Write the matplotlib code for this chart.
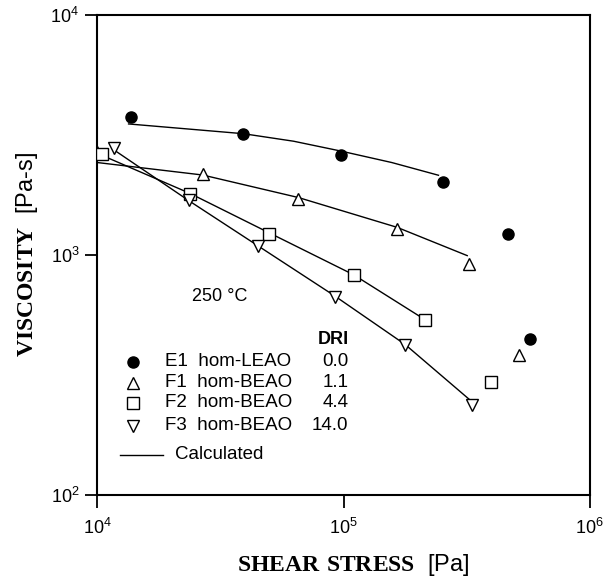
import numpy as np
import matplotlib
matplotlib.use("Agg")
from matplotlib import pyplot as plt

plt.rcParams['font.family'] = ['Liberation Sans', 'DejaVu Sans']
plt.rcParams['mathtext.fontset'] = 'custom'
plt.rcParams['mathtext.bf'] = 'Liberation Serif:bold'
plt.rcParams['mathtext.rm'] = 'Liberation Sans'

# measured points (shear stress [Pa], viscosity [Pa-s])
e1_x = [1.365e4, 3.92e4, 9.73e4, 2.53e5, 4.67e5, 5.70e5]
e1_y = [3767, 3200, 2618, 2022, 1228, 446]
f1_x = [1.0e4, 2.69e4, 6.55e4, 1.65e5, 3.22e5, 5.17e5]
f1_y = [2692, 2183, 1718, 1277, 913, 382]
f2_x = [1.045e4, 2.38e4, 4.98e4, 1.10e5, 2.15e5, 3.97e5]
f2_y = [2643, 1802, 1228, 822, 534, 295]
f3_x = [1.166e4, 2.36e4, 4.51e4, 9.2e4, 1.78e5, 3.33e5]
f3_y = [2799, 1701, 1085, 666, 421, 237]

# calculated curves
e1_cx = [1.34e4, 3.92e4, 6.27e4, 9.73e4, 1.57e5, 2.43e5]
e1_cy = [3515, 3201, 2978, 2711, 2427, 2148]
f1_cx = [1.0e4, 2.68e4, 6.55e4, 1.65e5, 3.18e5]
f1_cy = [2427, 2153, 1735, 1303, 993]
f2_cx = [1.045e4, 2.37e4, 4.95e4, 1.10e5, 2.07e5]
f2_cy = [2600, 1808, 1241, 826, 549]
f3_cx = [1.16e4, 2.36e4, 4.5e4, 9.2e4, 1.78e5, 3.33e5]
f3_cy = [2754, 1680, 1090, 675, 423, 244]

samples = ['E1  hom-LEAO', 'F1  hom-BEAO', 'F2  hom-BEAO', 'F3  hom-BEAO']
dri = ['0.0', '1.1', '4.4', '14.0']
markers = ['o', '^', 's', 'v']

fig = plt.figure(figsize=(6.08, 5.78), dpi=100)
ax = fig.add_axes([0.160, 0.144, 0.810, 0.830])

mk = dict(ls='none', ms=8, mew=1.0, color='black', zorder=3)
ax.plot(e1_x, e1_y, marker='o', mfc='black', **mk)
ax.plot(f1_x, f1_y, marker='^', mfc='white', **mk)
ax.plot(f2_x, f2_y, marker='s', mfc='white', **mk)
ax.plot(f3_x, f3_y, marker='v', mfc='white', **mk)

for cx, cy in [(e1_cx, e1_cy), (f1_cx, f1_cy), (f2_cx, f2_cy), (f3_cx, f3_cy)]:
    ax.plot(cx, cy, '-', color='black', lw=1.0, zorder=2)

ax.set_xscale('log')
ax.set_yscale('log')
ax.set_xlim(1e4, 1e6)
ax.set_ylim(1e2, 1e4)

ax.set_xticks([1e4, 1e5, 1e6])
ax.set_xticklabels([r'$\mathregular{10^{4}}$', r'$\mathregular{10^{5}}$', r'$\mathregular{10^{6}}$'])
ax.set_yticks([1e2, 1e3, 1e4])
ax.set_yticklabels([r'$\mathregular{10^{2}}$', r'$\mathregular{10^{3}}$', r'$\mathregular{10^{4}}$'])
ax.minorticks_off()
ax.tick_params(axis='x', direction='out', length=9, width=1.3, labelsize=13, pad=8)
ax.tick_params(axis='y', direction='out', length=9, width=1.3, labelsize=13, pad=4)
for s in ax.spines.values():
    s.set_linewidth(1.5)

ax.set_xlabel(r'$\mathbf{SHEAR\ STRESS}$  [Pa]', fontsize=17)
ax.xaxis.set_label_coords(0.519, -0.119)
ax.set_ylabel(r'$\mathbf{VISCOSITY}$  [Pa-s]', fontsize=17)
ax.yaxis.set_label_coords(-0.117, 0.5)

ax.text(0.249, 0.4125, '250 °C', transform=ax.transAxes, ha='center', va='center', fontsize=13)

# legend block
row_y = [0.277, 0.233, 0.192, 0.144]
ax.text(0.510, 0.323, 'DRI', transform=ax.transAxes, ha='right', va='center',
        fontsize=13, fontweight='bold')
for i in range(len(samples)):
    fc = 'black' if i == 0 else 'white'
    ax.plot([0.073], [row_y[i]], marker=markers[i], ms=8, mew=1.0, mfc=fc,
            color='black', ls='none', transform=ax.transAxes, clip_on=False)
    ax.text(0.137, row_y[i], samples[i], transform=ax.transAxes, ha='left', va='center', fontsize=13.5)
    ax.text(0.510, row_y[i], dri[i], transform=ax.transAxes, ha='right', va='center', fontsize=13.5)
ax.plot([0.046, 0.133], [0.083, 0.083], '-', color='black', lw=1.0, transform=ax.transAxes)
ax.text(0.157, 0.083, 'Calculated', transform=ax.transAxes, ha='left', va='center', fontsize=13.5)

fig.savefig('out.png', dpi=100)
